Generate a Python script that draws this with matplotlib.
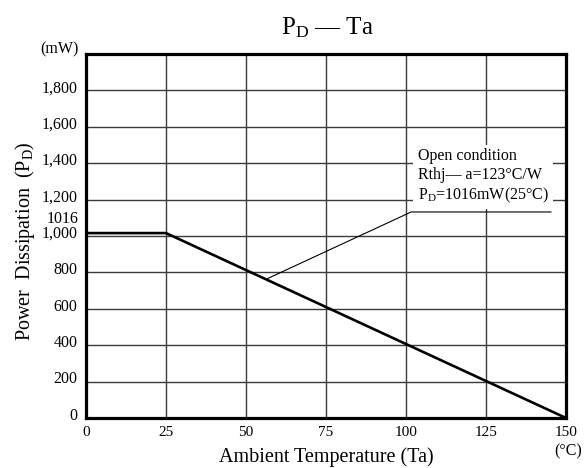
import matplotlib
matplotlib.use("Agg")
import matplotlib.pyplot as plt
import matplotlib.transforms as mtransforms

plt.rcParams['font.family'] = ['Liberation Serif', 'DejaVu Serif']
plt.rcParams['mathtext.fontset'] = 'custom'
plt.rcParams['mathtext.rm'] = 'Liberation Serif'
plt.rcParams['mathtext.it'] = 'Liberation Serif:italic'

# Data
temp = [0, 25, 150]
power = [1016, 1016, 0]
x_ticks = [0, 25, 50, 75, 100, 125, 150]
y_ticks = [0, 200, 400, 600, 800, 1000, 1200, 1400, 1600, 1800]
y_tick_labels = ['0', '200', '400', '600', '800', '1,000', '1,200', '1,400', '1,600', '1,800']
leader_x = [56.6, 101.6, 145.3]
leader_y = [765, 1132, 1132]
note_text = "Open condition\nRthj— a=123°C/W\n$\\mathrm{P_D}$=1016mW(25°C)"

fig = plt.figure(figsize=(5.84, 4.68), dpi=100)
ax = fig.add_axes([86/584, 1-418/468, 480/584, 364/468])
ax.set_xlim(0, 150)
ax.set_ylim(0, 2000)

for v in x_ticks[1:-1]:
    ax.axvline(v, color='#3a3a3a', lw=1.0, zorder=1)
for v in y_ticks[1:]:
    ax.axhline(v, color='#3a3a3a', lw=1.0, zorder=1)

ax.plot(temp, power, color='black', lw=1.9, zorder=3, solid_capstyle='butt')
ax.plot(leader_x, leader_y, color='black', lw=0.8, zorder=3)

ax.text(103.6, 1328, note_text, ha='left', va='center', fontsize=11.5,
        linespacing=1.22, zorder=4,
        bbox=dict(facecolor='white', edgecolor='none', pad=3))

for s in ax.spines.values():
    s.set_linewidth(2.3)
    s.set_color('black')
    s.set_zorder(5)

ax.set_xticks(x_ticks)
ax.set_xticklabels([str(v) for v in x_ticks], fontsize=11)
ax.set_yticks(y_ticks)
ax.set_yticklabels(y_tick_labels, fontsize=11.5)
ax.tick_params(axis='both', length=0)
ax.tick_params(axis='x', pad=6)
ax.tick_params(axis='y', pad=6)
offset = mtransforms.ScaledTranslation(0, 3/72, fig.dpi_scale_trans)
for lbl in ax.get_yticklabels():
    lbl.set_transform(lbl.get_transform() + offset)

trans = mtransforms.blended_transform_factory(ax.transAxes, ax.transData)
ax.text(-0.0146, 1093, '1016', transform=trans, ha='right', va='center', fontsize=11.5)

ax.text(-0.056, 1.014, '(mW)', transform=ax.transAxes, ha='center', va='center', fontsize=11.5)
ax.text(1.004, -0.093, '(°C)', transform=ax.transAxes, ha='center', va='center', fontsize=11.5)

ax.set_xlabel('Ambient Temperature (Ta)', fontsize=14.5)
ax.xaxis.set_label_coords(0.5, -0.107)
ax.xaxis.label.set_va('center')
ax.set_ylabel('Power  Dissipation  ($\\mathrm{P_D}$)', fontsize=14.5)
ax.yaxis.set_label_coords(-0.127, 0.486)
ax.yaxis.label.set_va('center')

fig.text(327/584, 1-28/468, '$\\mathrm{P_D}$ — Ta', ha='center', va='center', fontsize=18)

fig.savefig('out.png', dpi=100)
